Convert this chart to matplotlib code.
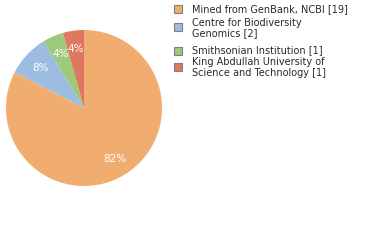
import matplotlib
matplotlib.use("Agg")
import matplotlib.pyplot as plt
from matplotlib.patches import Rectangle
import math

labels = ["Mined from GenBank, NCBI [19]", "Centre for Biodiversity\nGenomics [2]",
          "Smithsonian Institution [1]", "King Abdullah University of\nScience and Technology [1]"]
counts = [19, 2, 1, 1]
colors = ["#F0AD6F", "#9DBCE1", "#9EC97A", "#DE7861"]

W, H = 380, 240
fig = plt.figure(figsize=(W/100, H/100), dpi=100)
ax = fig.add_axes([6/W, 54/H, 156/W, 156/H])
ax.pie(counts, colors=colors, startangle=90, counterclock=False,
       autopct=lambda p: "%d%%" % int(math.floor(p + 1e-9)), pctdistance=0.76,
       textprops=dict(color="white", fontsize=7.5), radius=1,
       wedgeprops=dict(linewidth=0))
ax.set_xlim(-1, 1)
ax.set_ylim(-1, 1)
ax.set_aspect("equal")
ax.axis("off")

# legend
rows_y = [9, 26.5, 50.5, 67]
text_y = [9, 28, 50, 67.5]
for lab, col, sy, ty in zip(labels, colors, rows_y, text_y):
    fig.patches.append(Rectangle((174/W, 1 - (sy + 4)/H), 8/W, 8/H, transform=fig.transFigure,
                                 facecolor=col, edgecolor="#808080", linewidth=0.8))
    fig.text(192/W, 1 - ty/H, lab, fontsize=7, va="center", ha="left", color="#2a2a2a",
             linespacing=1.02)

fig.savefig("out.png", dpi=100)
